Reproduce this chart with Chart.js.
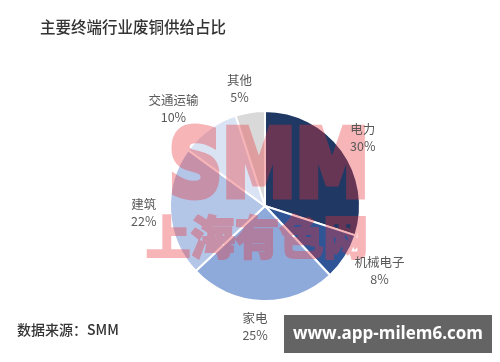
<!DOCTYPE html>
<html>
<head>
<meta charset="utf-8">
<script src="https://cdn.jsdelivr.net/npm/chart.js@4/dist/chart.umd.min.js"></script>
<style>
html,body{margin:0;padding:0;background:#fff;}
#wrap{width:500px;height:362px;position:relative;}
</style>
</head>
<body>
<div id="wrap"><canvas id="c" width="500" height="362"></canvas></div>
<script>
const categories = ["电力", "机械电子", "家电", "建筑", "交通运输", "其他"];
const shares = [30, 8, 25, 22, 10, 5];
const sliceColors = ["#203864", "#2f5597", "#8eaadb", "#b4c6e7", "#dae3f3", "#d9d9d9"];
const titleText = "主要终端行业废铜供给占比";
const sourceText = "数据来源：SMM";
const bannerText = "www.app-milem6.com";
// small label nudges (px) applied after geometric placement
const labelNudge = [[-3, 0], [3, 2], [-6, 3], [3, -1], [-14, -3], [-6, -2]];

const CJK = '"Noto Sans CJK SC", "Noto Sans", sans-serif';

const overlay = {
  id: 'overlay',
  afterDatasetsDraw(chart) {
    const ctx = chart.ctx;
    const meta = chart.getDatasetMeta(0);
    const a0 = meta.data[0];
    const cx = a0.x, cy = a0.y, R = a0.outerRadius;

    // watermark drawn opaque on an offscreen layer, then composited
    const off = document.createElement('canvas');
    off.width = 500; off.height = 362;
    const o = off.getContext('2d');
    o.fillStyle = '#e8343c';
    o.strokeStyle = '#e8343c';
    o.lineJoin = 'miter';
    o.textAlign = 'left';
    o.textBaseline = 'alphabetic';
    o.font = 'bold 92px "DejaVu Sans", sans-serif';
    o.lineWidth = 7;
    o.fillText('SMM', 169, 196, 200);
    o.strokeText('SMM', 169, 196, 200);
    o.font = '900 46px ' + CJK;
    o.lineWidth = 2;
    o.fillText('上海有色网', 146, 254, 222);
    o.strokeText('上海有色网', 146, 254, 222);
    ctx.save();
    ctx.globalAlpha = 0.36;
    ctx.drawImage(off, 0, 0);
    ctx.restore();

    // labels
    ctx.save();
    ctx.fillStyle = '#595959';
    ctx.textAlign = 'center';
    ctx.textBaseline = 'middle';
    ctx.font = '12.5px ' + CJK;
    meta.data.forEach((arc, i) => {
      const mid = (arc.startAngle + arc.endAngle) / 2;
      const w = ctx.measureText(categories[i]).width;
      const r = R + 22;
      let x = cx + Math.cos(mid) * r + Math.cos(mid) * w * 0.3;
      let y = cy + Math.sin(mid) * r;
      x += labelNudge[i][0];
      y += labelNudge[i][1];
      ctx.fillText(categories[i], x, y - 8);
      ctx.fillText(shares[i] + '%', x, y + 9);
    });
    ctx.restore();

    // title & source
    ctx.save();
    ctx.fillStyle = '#333333';
    ctx.textAlign = 'left';
    ctx.textBaseline = 'middle';
    ctx.font = '500 15.5px ' + CJK;
    ctx.fillText(titleText, 40, 27);
    ctx.fillStyle = '#333333';
    ctx.font = '500 14px ' + CJK;
    ctx.fillText(sourceText, 17, 330);
    // banner
    ctx.fillStyle = '#646464';
    ctx.fillRect(284, 315, 208, 38);
    ctx.fillStyle = '#ffffff';
    ctx.textAlign = 'center';
    ctx.font = 'bold 17px "Open Sans", "DejaVu Sans", sans-serif';
    ctx.fillText(bannerText, 388, 334, 190);
    ctx.restore();
  }
};

new Chart(document.getElementById('c'), {
  type: 'pie',
  data: {
    labels: categories,
    datasets: [{
      data: shares,
      backgroundColor: sliceColors,
      borderColor: '#ffffff',
      borderWidth: 2
    }]
  },
  options: {
    responsive: false,
    animation: false,
    rotation: 0,
    layout: { padding: { top: 110, bottom: 60, left: 169, right: 139 } },
    plugins: { legend: { display: false }, tooltip: { enabled: false }, title: { display: false } }
  },
  plugins: [overlay]
});
</script>
</body>
</html>
